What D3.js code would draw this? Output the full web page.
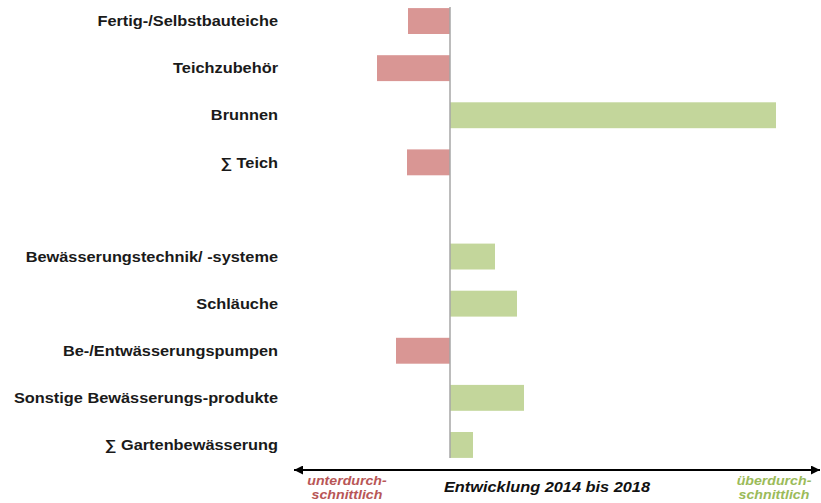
<!DOCTYPE html>
<html>
<head>
<meta charset="utf-8">
<script src="https://cdn.jsdelivr.net/npm/d3@7"></script>
<style>
  body { margin: 0; background: #fff; }
  svg { display: block; font-family: "Liberation Sans", Arial, sans-serif; }
</style>
</head>
<body>
<div id="chart"></div>
<script>
// Categories (top to bottom); empty string = blank spacer row
const categories = [
    "Fertig-/Selbstbauteiche",
    "Teichzubehör",
    "Brunnen",
    "∑ Teich",
    "",
    "Bewässerungstechnik/ -systeme",
    "Schläuche",
    "Be-/Entwässerungspumpen",
    "Sonstige Bewässerungs-produkte",
    "∑ Gartenbewässerung"
];

// Relative development (arbitrary units)
const values = [-42, -73, 326, -43, null, 45, 67, -54, 74, 23];

const axisTitle = "Entwicklung 2014 bis 2018";
const leftLabel = ["unterdurch-", "schnittlich"];
const rightLabel = ["überdurch-", "schnittlich"];

const width = 821;
const height = 503;
const stretch = 1.09; // text in the source is slightly wider than Arial

const svg = d3.select("#chart")
    .append("svg")
    .attr("width", width)
    .attr("height", height);

// Scales
const x = d3.scaleLinear()
    .domain([-160, 370])
    .range([290, 820]);

const y = d3.scaleBand()
    .domain(d3.range(categories.length))
    .range([-2.5, 468.5])
    .paddingInner(0.45)
    .paddingOuter(0.225);

const data = categories.map((c, i) => ({ name: c, value: values[i], i: i }));

// Bars
svg.selectAll(".bar")
    .data(data.filter(d => d.value !== null))
    .enter()
    .append("rect")
    .attr("class", "bar")
    .attr("x", d => x(Math.min(0, d.value)))
    .attr("width", d => Math.abs(x(d.value) - x(0)))
    .attr("y", d => y(d.i))
    .attr("height", y.bandwidth())
    .attr("fill", d => d.value < 0 ? "#d99694" : "#c3d69b");

// Zero line
svg.append("line")
    .attr("x1", x(0)).attr("x2", x(0))
    .attr("y1", y(0) - 1)
    .attr("y2", y(categories.length - 1) + y.bandwidth())
    .attr("stroke", "#a6a6a6")
    .attr("stroke-width", 1.5);

// Category labels
svg.append("g")
    .attr("transform", `translate(278,0) scale(${stretch},1)`)
    .selectAll(".label")
    .data(data.filter(d => d.name !== ""))
    .enter()
    .append("text")
    .attr("class", "label")
    .attr("x", 0)
    .attr("y", d => y(d.i) + y.bandwidth() / 2)
    .attr("dy", "0.35em")
    .attr("text-anchor", "end")
    .style("font-size", "15px")
    .style("font-weight", "bold")
    .style("fill", "#1a1a1a")
    .text(d => d.name);

// Double-headed arrow
const arrowY = 470;
const defs = svg.append("defs");
["start", "end"].forEach(k => {
    defs.append("marker")
        .attr("id", "arrow-" + k)
        .attr("viewBox", "0 0 10 10")
        .attr("refX", k === "end" ? 10 : 0)
        .attr("refY", 5)
        .attr("markerWidth", 6)
        .attr("markerHeight", 4.5)
        .attr("markerUnits", "strokeWidth")
        .attr("orient", "auto")
        .append("path")
        .attr("d", k === "end" ? "M0,0 L10,5 L0,10 Z" : "M10,0 L0,5 L10,10 Z")
        .attr("fill", "#000");
});

svg.append("line")
    .attr("x1", 294).attr("x2", 820)
    .attr("y1", arrowY).attr("y2", arrowY)
    .attr("stroke", "#000")
    .attr("stroke-width", 2)
    .attr("marker-start", "url(#arrow-start)")
    .attr("marker-end", "url(#arrow-end)");

// Axis texts
svg.append("g")
    .attr("transform", `translate(547,0) scale(${stretch},1)`)
    .append("text")
    .attr("x", 0)
    .attr("y", 492)
    .attr("text-anchor", "middle")
    .style("font-size", "15px")
    .style("font-weight", "bold")
    .style("font-style", "italic")
    .style("fill", "#111")
    .text(axisTitle);

function sideLabel(lines, cx, color) {
    svg.append("g")
        .attr("transform", `translate(${cx},0) scale(${stretch},1)`)
        .append("text")
        .attr("text-anchor", "middle")
        .style("font-size", "13px")
        .style("font-weight", "bold")
        .style("font-style", "italic")
        .style("fill", color)
        .selectAll("tspan")
        .data(lines)
        .enter()
        .append("tspan")
        .attr("x", 0)
        .attr("y", (d, i) => 485 + i * 14)
        .text(d => d);
}
sideLabel(leftLabel, 347, "#b85656");
sideLabel(rightLabel, 774, "#9bbb59");
</script>
</body>
</html>
